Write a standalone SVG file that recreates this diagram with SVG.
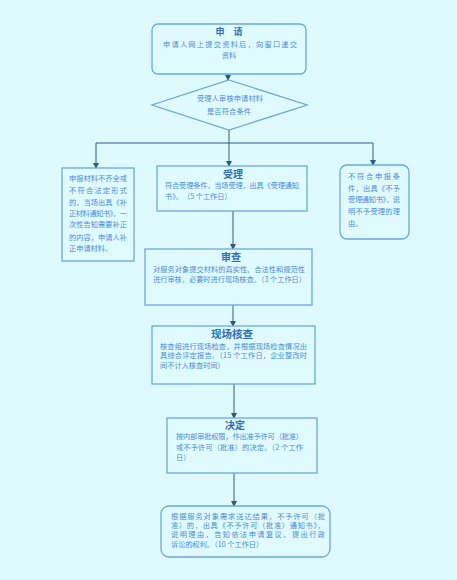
<svg xmlns="http://www.w3.org/2000/svg" width="457" height="580" viewBox="0 0 457 580">
<defs>
<marker id="arr" markerWidth="6" markerHeight="6" refX="5" refY="3" orient="auto" markerUnits="userSpaceOnUse">
<path d="M0,0 L6,3 L0,6 Z" fill="#2c5a86"/>
</marker>
<style>
.box{fill:#e0fbff;stroke:#6aa8e2;stroke-width:1.3}
.t{font-family:"Noto Sans CJK SC","Noto Sans",sans-serif;fill:#4a8cd6;font-size:7.2px}
.h{font-family:"Noto Sans CJK SC","Noto Sans",sans-serif;fill:#2f6fb8;font-weight:bold;text-anchor:middle}
.c{fill:none;stroke:#2c5a86;stroke-width:1}
</style>
</defs>
<rect width="457" height="580" fill="#dffafe"/>
<g id="connectors">
<line class="c" x1="228" y1="74" x2="228" y2="80" marker-end="url(#arr)"/>
<line class="c" x1="229" y1="130" x2="229" y2="166" marker-end="url(#arr)"/>
<line class="c" x1="96" y1="143" x2="373" y2="143"/>
<line class="c" x1="96" y1="143" x2="96" y2="168" marker-end="url(#arr)"/>
<line class="c" x1="373" y1="143" x2="373" y2="165" marker-end="url(#arr)"/>
<line class="c" x1="233" y1="211" x2="233" y2="249" marker-end="url(#arr)"/>
<line class="c" x1="233" y1="305" x2="233" y2="326" marker-end="url(#arr)"/>
<line class="c" x1="234" y1="384" x2="234" y2="418" marker-end="url(#arr)"/>
<line class="c" x1="234" y1="473" x2="234" y2="506" marker-end="url(#arr)"/>
</g>
<g id="apply">
<rect class="box" x="152" y="24" width="154" height="50" rx="6"/>
<text class="h" x="229" y="35" font-size="9">申　请</text>
<text class="t" x="163" y="47" font-size="8" textLength="134" lengthAdjust="spacing">申请人网上提交资料后，向窗口递交</text>
<text class="t" x="229" y="58" font-size="8" text-anchor="middle">资料</text>
</g>
<g id="check">
<polygon class="box" points="229,80 307,105 229,130 152,105"/>
<text class="t" x="197" y="101" textLength="66" lengthAdjust="spacing">受理人审核申请材料</text>
<text class="t" x="207" y="114" textLength="44" lengthAdjust="spacing">是否符合条件</text>
</g>
<g id="incomplete">
<rect class="box" x="62" y="168" width="72" height="93"/>
<text class="t" x="69" y="181" textLength="58" lengthAdjust="spacing">申报材料不齐全或</text>
<text class="t" x="69" y="193" textLength="58" lengthAdjust="spacing">不符合法定形式</text>
<text class="t" x="69" y="205" textLength="58" lengthAdjust="spacing">的，当场出具《补</text>
<text class="t" x="69" y="216" textLength="58" lengthAdjust="spacing">正材料通知书》，一</text>
<text class="t" x="69" y="227" textLength="58" lengthAdjust="spacing">次性告知需要补正</text>
<text class="t" x="69" y="240" textLength="58" lengthAdjust="spacing">的内容，申请人补</text>
<text class="t" x="69" y="251">正申请材料。</text>
</g>
<g id="accept">
<rect class="box" x="157" y="166" width="150" height="45"/>
<text class="h" x="233" y="178" font-size="10">受理</text>
<text class="t" x="165" y="188" textLength="134" lengthAdjust="spacing">符合受理条件，当场受理，出具《受理通知</text>
<text class="t" x="165" y="199">书》。　（5 个工作日）</text>
</g>
<g id="reject">
<rect class="box" x="340" y="165" width="69" height="74" rx="7"/>
<text class="t" x="348" y="179" textLength="52" lengthAdjust="spacing">不符合申报条</text>
<text class="t" x="348" y="191" textLength="52" lengthAdjust="spacing">件，出具《不予</text>
<text class="t" x="348" y="202" textLength="52" lengthAdjust="spacing">受理通知书》，说</text>
<text class="t" x="348" y="214" textLength="52" lengthAdjust="spacing">明不予受理的理</text>
<text class="t" x="348" y="226">由。</text>
</g>
<g id="review">
<rect class="box" x="145" y="249" width="167" height="56"/>
<text class="h" x="231" y="261" font-size="10">审查</text>
<text class="t" x="153" y="272" textLength="152" lengthAdjust="spacing">对服务对象提交材料的真实性、合法性和规范性</text>
<text class="t" x="153" y="282">进行审核，必要时进行现场核查。（3 个工作日）</text>
</g>
<g id="inspect">
<rect class="box" x="152" y="326" width="163" height="58"/>
<text class="h" x="232" y="338" font-size="10.5">现场核查</text>
<text class="t" x="160" y="349" textLength="147" lengthAdjust="spacing">核查组进行现场检查，并根据现场检查情况出</text>
<text class="t" x="160" y="358" textLength="147" lengthAdjust="spacing">具综合评定报告。（15 个工作日，企业整改时</text>
<text class="t" x="160" y="368">间不计入核查时间）</text>
</g>
<g id="decide">
<rect class="box" x="167" y="418" width="150" height="55"/>
<text class="h" x="235" y="429" font-size="10">决定</text>
<text class="t" x="176" y="439" textLength="127" lengthAdjust="spacing">按内部审批权限，作出准予许可（批准）</text>
<text class="t" x="176" y="450" textLength="127" lengthAdjust="spacing">或不予许可（批准）的决定。（2 个工作</text>
<text class="t" x="176" y="460">日）</text>
</g>
<g id="deliver">
<rect class="box" x="161" y="506" width="169" height="51" rx="8"/>
<text class="t" x="171" y="519" textLength="154" lengthAdjust="spacing">根据服务对象需求送达结果，不予许可（批</text>
<text class="t" x="171" y="528" textLength="154" lengthAdjust="spacing">准）的，出具《不予许可（批准）通知书》，</text>
<text class="t" x="171" y="537" textLength="154" lengthAdjust="spacing">说明理由，告知依法申请复议、提出行政</text>
<text class="t" x="171" y="547">诉讼的权利。（10 个工作日）</text>
</g>
</svg>
